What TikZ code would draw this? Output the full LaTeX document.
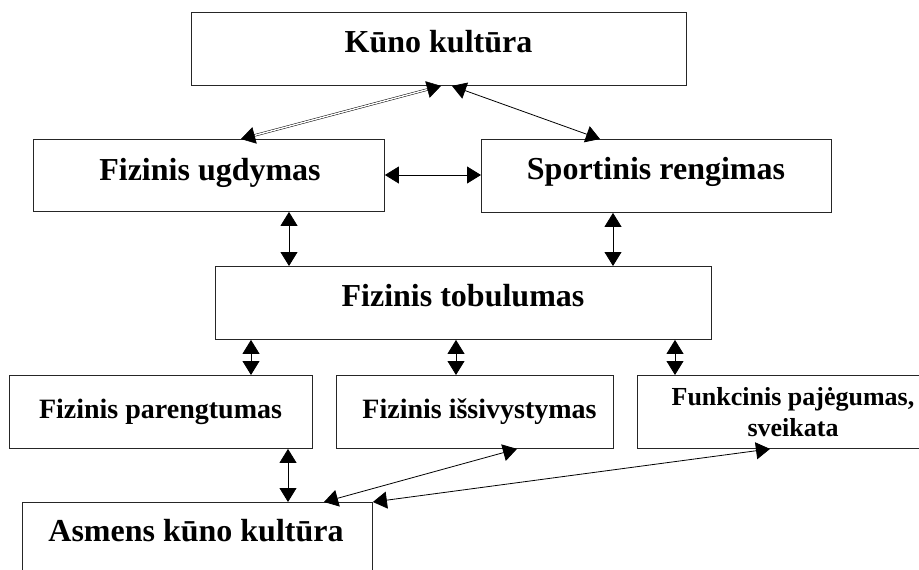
\documentclass[tikz,border=0pt]{standalone}
\usepackage{fontspec}
\setmainfont{Liberation Serif}
\usetikzlibrary{arrows.meta}
\begin{document}
\begin{tikzpicture}[x=1pt,y=-1pt,
  box/.style={draw=black!85,line width=0.9pt,fill=white,inner sep=0pt,anchor=north west},
  big/.style={anchor=base,inner sep=0pt,font=\fontsize{32}{36}\selectfont\bfseries},
  mid/.style={anchor=base,inner sep=0pt,font=\fontsize{28}{32}\selectfont\bfseries},
  small/.style={anchor=base,inner sep=0pt,align=center,font=\fontsize{26}{31}\selectfont\bfseries},
  tip/.tip={Triangle[length=14pt,width=17pt]},
  link/.style={line width=0.8pt,tip-tip},
  twin/.style={link,double=white,double distance=1.4pt,line width=0.5pt}]
\useasboundingbox (0,0) rectangle (919,570);
\clip (0,0) rectangle (919,570);

% boxes
\node[box,minimum width=495pt,minimum height=73pt] (K)  at (191,12)  {};
\node[box,minimum width=351pt,minimum height=72pt] (FU) at (33,139)  {};
\node[box,minimum width=350pt,minimum height=73pt] (SR) at (481,139) {};
\node[box,minimum width=496pt,minimum height=73pt] (FT) at (215,266) {};
\node[box,minimum width=303pt,minimum height=73pt] (FP) at (9,375)   {};
\node[box,minimum width=277pt,minimum height=73pt] (FI) at (336,375) {};
\node[box,minimum width=290pt,minimum height=73pt] (FF) at (637,375) {};
\node[box,minimum width=350pt,minimum height=90pt] (A)  at (22,502)  {};

% labels
\node[big]   (Kt)  at (438.5,52)  {Kūno kultūra};
\node[big]   (FUt) at (210,180)   {Fizinis ugdymas};
\node[big]   (SRt) at (656,179)   {Sportinis rengimas};
\node[big]   (FTt) at (463,306)   {Fizinis tobulumas};
\node[mid]   (FPt) at (160.5,418) {Fizinis parengtumas};
\node[mid]   (FIt) at (479.5,418) {Fizinis išsivystymas};
\node[small] (FFt) at (793,436)   {Funkcinis pajėgumas,\\sveikata};
\node[big]   (At)  at (196,541)   {Asmens kūno kultūra};

% connectors
\draw[twin] ([xshift=250pt]K.south west) -- ([xshift=208pt]FU.north west);
\draw[link] ([xshift=261pt]K.south west) -- ([xshift=119pt]SR.north west);
\draw[link] (FU.east |- 0,175) -- (SR.west |- 0,175);
\draw[link] ([xshift=256pt]FU.south west) -- ([xshift=74pt]FT.north west);
\draw[link] ([xshift=132pt]SR.south west) -- ([xshift=398pt]FT.north west);
\draw[link] ([xshift=36pt]FT.south west) -- ([xshift=242pt]FP.north west);
\draw[link] ([xshift=241pt]FT.south west) -- ([xshift=120pt]FI.north west);
\draw[link] ([xshift=460pt]FT.south west) -- ([xshift=38pt]FF.north west);
\draw[link] ([xshift=279pt]FP.south west) -- ([xshift=266pt]A.north west);
\draw[link] ([xshift=181pt]FI.south west) -- ([xshift=302pt]A.north west);
\draw[link] ([xshift=133pt]FF.south west) -- (A.north east);
\end{tikzpicture}
\end{document}
